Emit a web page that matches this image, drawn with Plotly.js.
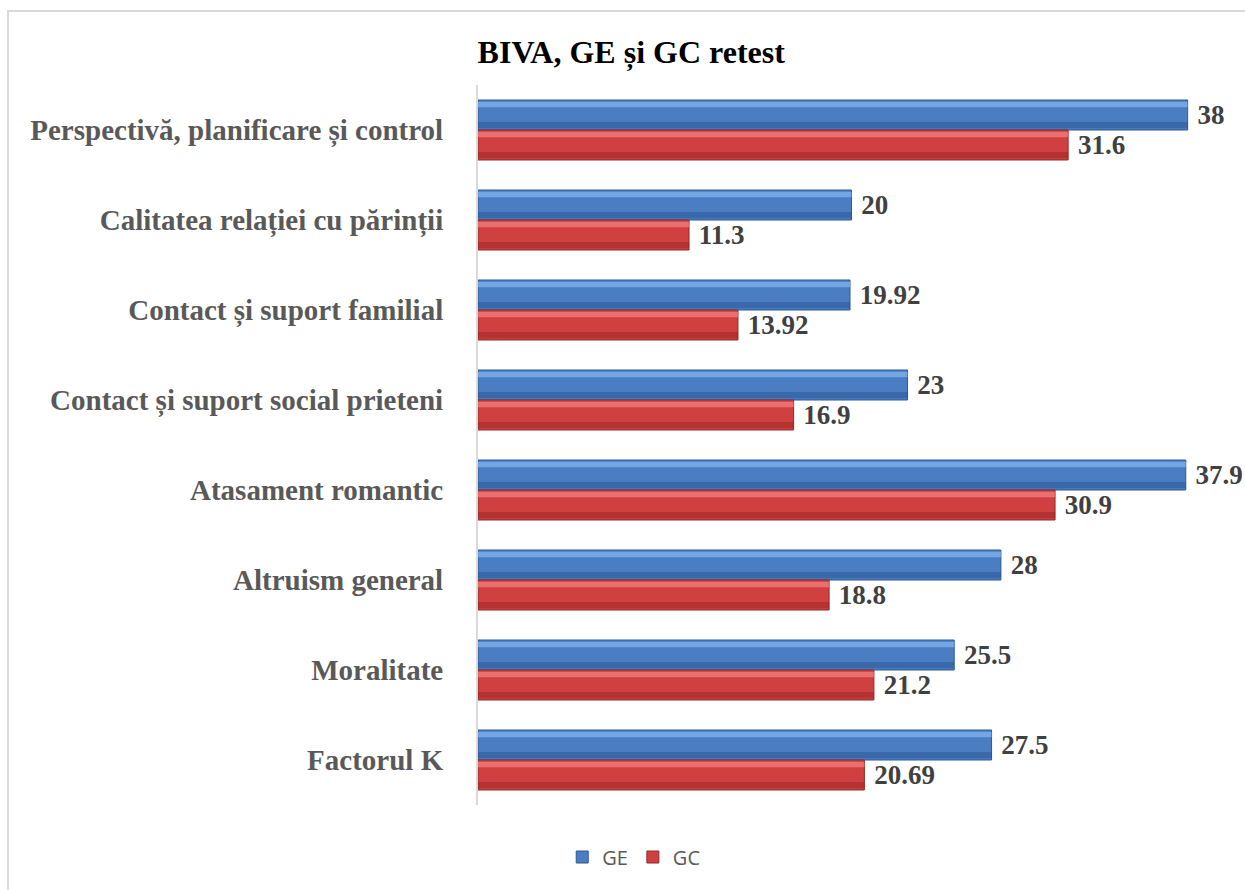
<!DOCTYPE html>
<html>
<head>
<meta charset="utf-8">
<script src="https://cdn.plot.ly/plotly-3.0.1.min.js"></script>
<style>
html,body{margin:0;padding:0;background:#fff;overflow:hidden;}
#chart{width:1245px;height:890px;position:absolute;left:0;top:0;}
#frame{position:absolute;left:7px;top:10px;width:1300px;height:1000px;border:2px solid #d9d9d9;pointer-events:none;box-sizing:border-box;}
</style>
</head>
<body>
<div id="chart"></div>
<div id="frame"></div>
<script>
const categories = [
  "Perspectivă, planificare și control",
  "Calitatea relației cu părinții",
  "Contact și suport familial",
  "Contact și suport social prieteni",
  "Atasament romantic",
  "Altruism general",
  "Moralitate",
  "Factorul K"
];
const geValues = [38, 20, 19.92, 23, 37.9, 28, 25.5, 27.5];
const gcValues = [31.6, 11.3, 13.92, 16.9, 30.9, 18.8, 21.2, 20.69];
const seriesNames = ["GE", "GC"];

const BW = 1/3;
const labelFont = {family: "Liberation Serif, Times New Roman, serif", size: 27, color: "#404040", weight: "bold"};

function mainTrace(name, vals, color, line, offset) {
  return {
    type: "bar", orientation: "h", name: name,
    y: categories, x: vals,
    width: BW, offset: offset,
    marker: {color: color, line: {color: line, width: 1}},
    text: vals.map(v => "\u00a0" + v),
    textposition: "outside",
    textfont: labelFont,
    cliponaxis: false,
    constraintext: "none",
    hoverinfo: "x+name"
  };
}
function stripTrace(vals, color, offset, width) {
  return {
    type: "bar", orientation: "h", showlegend: false,
    y: categories, x: vals, width: width, offset: offset,
    marker: {color: color, line: {width: 0}},
    hoverinfo: "skip"
  };
}

const data = [
  mainTrace(seriesNames[0], geValues, "#4a7dc2", "#2c5a92", -BW),
  mainTrace(seriesNames[1], gcValues, "#d04040", "#8e2a2a", 0),
  stripTrace(geValues, "rgba(150,200,255,0.55)", -BW + 0.02, 0.06),
  stripTrace(geValues, "rgba(30,70,130,0.35)", -0.09, 0.07),
  stripTrace(gcValues, "rgba(255,150,150,0.55)", 0.02, 0.06),
  stripTrace(gcValues, "rgba(120,20,20,0.3)", BW - 0.09, 0.07)
];

const layout = {
  width: 1245, height: 890,
  paper_bgcolor: "#fff", plot_bgcolor: "#fff",
  margin: {l: 478, r: 20, t: 85, b: 85},
  barmode: "overlay",
  showlegend: true,
  title: {
    text: "<b>BIVA, GE și GC retest</b>",
    font: {family: "Liberation Serif, Times New Roman, serif", size: 32, color: "#000"},
    x: 0.507, xref: "container", xanchor: "center",
    y: 1 - 52/890, yref: "container", yanchor: "middle"
  },
  xaxis: {
    range: [0, 40], showgrid: false, zeroline: false, showticklabels: false,
    showline: false, ticks: ""
  },
  yaxis: {
    type: "category", autorange: "reversed",
    showgrid: false, zeroline: false,
    showline: true, linecolor: "#d9d9d9", linewidth: 2,
    ticks: "", ticklabelstandoff: 27,
    tickfont: {family: "Liberation Serif, Times New Roman, serif", size: 29, color: "#595959", weight: "bold"}
  },
  legend: {
    orientation: "h", x: 0.509, xref: "container", xanchor: "center",
    y: 1 - 857/890, yref: "container", yanchor: "middle",
    font: {family: "Open Sans, sans-serif", size: 20, color: "#595959"},
    itemwidth: 30, traceorder: "normal"
  }
};

Plotly.newPlot("chart", data, layout, {displayModeBar: false, staticPlot: true});
</script>
</body>
</html>
